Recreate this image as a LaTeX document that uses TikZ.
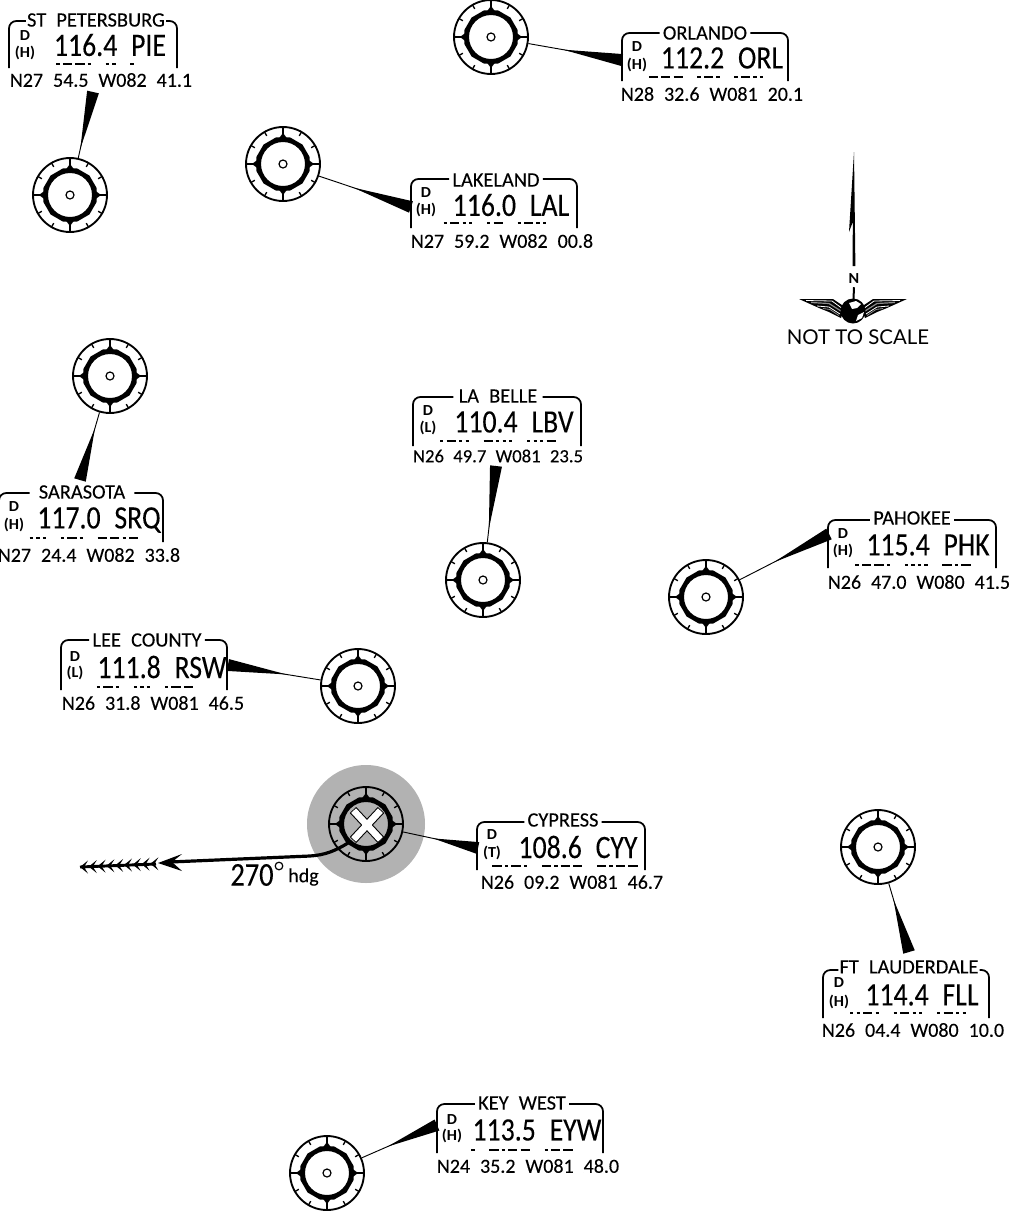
\documentclass[tikz,border=0pt]{standalone}
\usepackage{fontspec}
\setmainfont{Carlito}[FakeStretch=0.85,WordSpace=2.2,FakeBold=0.12]
\newfontfamily\widef{Carlito}[FakeStretch=1.0,WordSpace=2.2,FakeBold=0.12]
\newfontfamily\boldf{Carlito Bold}[FakeStretch=1.05]
\newfontfamily\logofont{Lato}
\usetikzlibrary{calc}
\tikzset{
  x=0.75pt,y=-0.75pt,
  vorout/.style={circle,draw,line width=1.4pt,minimum size=55.5pt,inner sep=0pt},
  tick/.style={line width=1pt},
  boxline/.style={line width=1.3pt,rounded corners=5.5pt},
  titletext/.style={font=\widef\fontsize{15.3}{16}\selectfont,inner sep=0pt},
  freqtext/.style={font=\fontsize{24.5}{25}\selectfont,inner sep=0pt},
  coordtext/.style={font=\widef\fontsize{15}{16}\selectfont,inner sep=0pt},
  coordsmall/.style={font=\widef\fontsize{14}{15}\selectfont,inner sep=0pt},
  classtext/.style={font=\boldf\fontsize{11.5}{12}\selectfont,inner sep=0pt},
  morsetext/.style={inner sep=0pt},
  radial/.style={line width=0.7pt},
}
\newcommand\md{\rule{2.5pt}{2.2pt}\hspace{2.4pt}}
\newcommand\mD{\rule{6.9pt}{2.2pt}\hspace{2.4pt}}
\newcommand\mS{\hspace{8.6pt}}
\newcommand\vorsym[3]{%
  \node[vorout] (#1) at (#2,#3) {};
  \begin{scope}[shift={(#2,#3)}]
    \fill[even odd rule] (15:27.5) \foreach \a in {45,75,...,345}{ -- (\a:27.5)} -- cycle (0,0) circle (22);
    \foreach \a in {0,90,180,270}{
      \draw[tick] (\a:24) -- (\a:37);
      \fill (\a+9:26) -- (\a:31) -- (\a-9:26) -- cycle;
    }
    \foreach \a in {30,60,120,150,210,240,300,330} \draw[tick] (\a:32.5) -- (\a:37);
    \draw[line width=0.9pt] (0,0) circle (4);
  \end{scope}
}
% id, left, right, top, bottom, title cx, title cy, title, gap
\newcommand\lblbox[9]{%
  \node[titletext] (#1-title) at (#6,#7) {#8};
  \draw[boxline] (#2,#5) -- (#2,#4) -- ($(#1-title.west)+(-#9,#4-#7)$);
  \draw[boxline] ($(#1-title.east)+(#9,#4-#7)$) -- (#3,#4) -- (#3,#5);
}
% id, x, D y, class y, class
\newcommand\lblclass[5]{%
  \node[classtext] (#1-d) at (#2,#3) {D};
  \node[classtext] (#1-c) at (#2,#4) {(#5)};
}
\newcommand\lblfreq[4]{\node[freqtext] (#1-freq) at (#2,#3) {#4};}
\newcommand\lblmorse[4]{\node[morsetext] (#1-morse) at (#2,#3) {#4};}
\newcommand\lblcoord[4]{\node[coordtext] (#1-coord) at (#2,#3) {#4};}
\newcommand\radialto[4]{% vor, base x, base y, fraction
  \coordinate (#1-base) at (#2,#3);
  \draw[radial] (#1) -- (#1-base);
  \fill ($(#1)!#4!(#1-base)$) -- ($(#1-base)!4.5pt!90:(#1)$) -- ($(#1-base)!4.5pt!-90:(#1)$) -- cycle;
}
\begin{document}
\begin{tikzpicture}
\clip (0,0) rectangle (1012,1211);
\fill[white] (0,0) rectangle (1012,1211);
\fill[black!30] (366,824) circle (59);

\vorsym{pie}{70}{195}
\vorsym{orl}{491}{37}
\vorsym{lal}{283}{164}
\vorsym{srq}{110}{376}
\vorsym{lbv}{483}{580}
\vorsym{phk}{706}{597}
\vorsym{rsw}{358}{686}
\vorsym{cyy}{366}{824}
\vorsym{fll}{878}{847}
\vorsym{eyw}{327}{1173}

\radialto{pie}{93}{92}{0.45}
\radialto{orl}{622}{60}{0.55}
\radialto{lal}{411}{207}{0.55}
\radialto{srq}{80}{480}{0.5}
\radialto{lbv}{496}{466}{0.45}
\radialto{phk}{829}{534}{0.55}
\radialto{rsw}{228}{665}{0.55}
\radialto{cyy}{478}{848}{0.6}
\radialto{fll}{909}{952}{0.5}
\radialto{eyw}{437}{1125}{0.55}

% St Petersburg
\lblbox{a}{9}{177}{21}{68}{96}{20}{ST PETERSBURG}{1}
\lblclass{a}{25}{36}{53}{H}
\lblfreq{a}{110}{45}{116.4 PIE}
\lblmorse{a}{95}{64}{\md\mD\mD\md\mS\md\md\mS\md}
\lblcoord{a}{101}{80}{N27 54.5 W082 41.1}
% Orlando
\lblbox{b}{622}{788}{33}{81}{705}{33}{ORLANDO}{3}
\lblclass{b}{637}{47}{65}{H}
\lblfreq{b}{722}{58}{112.2 ORL}
\lblmorse{b}{706}{77}{\mD\mD\mD\mS\md\mD\md\mS\md\mD\md\md}
\lblcoord{b}{712}{94}{N28 32.6 W081 20.1}
% Lakeland
\lblbox{c}{411}{577}{179}{228}{496}{180}{LAKELAND}{3}
\lblclass{c}{426}{193}{210}{H}
\lblfreq{c}{511}{205}{116.0 LAL}
\lblmorse{c}{495}{223}{\md\mD\md\md\mS\md\mD\mS\md\mD\md\md}
\lblcoord{c}{502}{241}{N27 59.2 W082 00.8}
% La Belle
\lblbox{d}{413}{581}{397}{446}{498}{396}{LA BELLE}{5}
\lblclass{d}{428}{411}{428}{L}
\lblfreq{d}{514}{422}{110.4 LBV}
\lblmorse{d}{498}{441}{\md\mD\md\md\mS\mD\md\md\md\mS\md\md\md\mD}
\node[coordsmall] (d-coord) at (498,456) {N26 49.7 W081 23.5};
% Sarasota
\lblbox{e}{-1}{163}{493}{542}{82}{492}{SARASOTA}{9}
\lblclass{e}{14}{507}{525}{H}
\lblfreq{e}{99}{520}{117.0 SRQ}
\lblmorse{e}{84}{538}{\md\md\md\mS\md\mD\md\mS\mD\mD\md\mD}
\lblcoord{e}{89}{555}{N27 24.4 W082 33.8}
% Pahokee
\lblbox{f}{828}{996}{520}{568}{912}{518}{PAHOKEE}{3}
\lblclass{f}{843}{534}{551}{H}
\lblfreq{f}{928}{545}{115.4 PHK}
\lblmorse{f}{913}{565}{\md\mD\mD\md\mS\md\md\md\md\mS\mD\md\mD}
\lblcoord{f}{919}{582}{N26 47.0 W080 41.5}
% Lee County
\lblbox{g}{61}{227}{640}{690}{147}{640}{LEE COUNTY}{3}
\lblclass{g}{75}{657}{673}{L}
\lblfreq{g}{162}{667}{111.8 RSW}
\lblmorse{g}{145}{687}{\md\mD\md\mS\md\md\md\mS\md\mD\mD}
\lblcoord{g}{153}{703}{N26 31.8 W081 46.5}
% Cypress
\lblbox{h}{477}{645}{822}{870}{563}{820}{CYPRESS}{3}
\lblclass{h}{492}{835}{853}{T}
\lblfreq{h}{578}{847}{108.6 CYY}
\lblmorse{h}{565}{866}{\mD\md\mD\md\mS\mD\md\mD\mD\mS\mD\md\mD\mD}
\lblcoord{h}{572}{882}{N26 09.2 W081 46.7}
% Ft Lauderdale
\lblbox{i}{823}{989}{970}{1018}{909}{967}{FT LAUDERDALE}{1}
\lblclass{i}{839}{983}{1002}{H}
\lblfreq{i}{922}{995}{114.4 FLL}
\lblmorse{i}{908}{1013}{\md\md\mD\md\mS\md\mD\md\md\mS\md\mD\md\md}
\lblcoord{i}{913}{1030}{N26 04.4 W080 10.0}
% Key West
\lblbox{j}{437}{603}{1104}{1153}{522}{1103}{KEY WEST}{3}
\lblclass{j}{452}{1120}{1136}{H}
\lblfreq{j}{537}{1130}{113.5 EYW}
\lblmorse{j}{522}{1150}{\md\mS\mD\md\mD\mD\mS\md\mD\mD}
\lblcoord{j}{528}{1166}{N24 35.2 W081 48.0}

% north arrow and logo
\fill (854,152) -- (855.4,266) -- (852.6,266) -- (852.8,222) -- (849,232) -- cycle;
\node[font=\boldf\fontsize{11.5}{12}\selectfont,inner sep=0pt] (north) at (854,279) {N};
\coordinate (globe) at (853,311);
\draw[line width=1.5pt] (north.south) ++(0,3) -- (globe);
\foreach \s in {1,-1}{
\begin{scope}[shift={(853,311)},xscale=\s]
  \fill (-54,-12) -- (-20,-12) -- (-8,-4) -- (-12,7) -- (-24,1) -- (-34,-3) -- cycle;
  \draw[white,line width=0.6pt] (-47,-10.5) -- (-21,-10) -- (-10,-2);
  \draw[black!45,line width=0.9pt] (-42,-8.5) -- (-24,-7.5) -- (-12,0);
  \draw[white,line width=0.6pt] (-36,-5) -- (-24,-4) -- (-13,3);
  \draw[black!45,line width=0.6pt] (-30,-2.5) -- (-23,-1.5) -- (-14,4.5);
\end{scope}}
\fill (globe) circle (12.5);
\fill[white] (849,303) -- (856,301) -- (861,304) -- (857,308) -- (852,309) -- cycle;
\fill[white] (858,315) -- (864,312) -- (862,318) -- (856,321) -- cycle;
\node[font=\logofont\fontsize{15.3}{16}\selectfont,inner sep=0pt] (nts) at (858,337) {NOT TO SCALE};

% course
\node[inner sep=0pt,font=\fontsize{25}{26}\selectfont] (hdg) at (252,875) {270};
\node[inner sep=0pt,anchor=west,font=\widef\fontsize{15}{15}\selectfont] (hdgt) at (288,877) {hdg};
\draw[line width=0.9pt] (279,866) circle (3.8);
\coordinate (courseStart) at (348,843);
\coordinate (courseHead) at (158,863);
\draw[line width=2.4pt] (courseStart) .. controls (335,851) and (325,855) .. (310,856) -- (170,862);
\fill (courseHead) -- (182,854) -- (172,862) -- (182,871) -- cycle;
\foreach \i in {0,...,8}{
  \fill ({80+\i*8.8},{867-\i*0.4}) -- ({88+\i*8.8},{860.5-\i*0.4}) -- ({84+\i*8.8},{867-\i*0.4}) -- ({88+\i*8.8},{873.5-\i*0.4}) -- cycle;
}
\draw[line width=2.2pt] (80,867) -- (156,864);
% x
\draw[line width=6.6pt] (353,810) -- (381,840) (353,840) -- (381,810);
\draw[white,line width=5pt] (353.6,810.6) -- (380.4,839.4) (353.6,839.4) -- (380.4,810.6);
\end{tikzpicture}
\end{document}
